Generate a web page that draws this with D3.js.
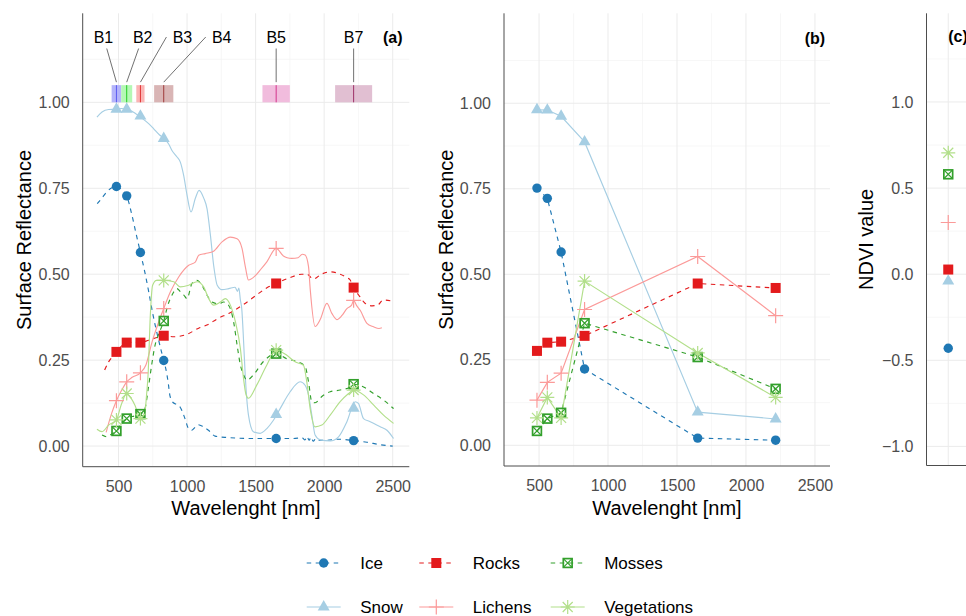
<!DOCTYPE html>
<html>
<head>
<meta charset="utf-8">
<script src="https://cdn.jsdelivr.net/npm/d3@7"></script>
<style>
  body { margin: 0; background: #fff; }
  svg { display: block; font-family: "Liberation Sans", Arial, sans-serif; }
</style>
</head>
<body>
<svg id="chart" width="966" height="616"></svg>
<script>
// ---- data ----
const classes = ["Ice", "Snow", "Rocks", "Lichens", "Mosses", "Vegetations"];

const bandNames = ["B1", "B2", "B3", "B4", "B5", "B7"];
const bandStart = [450, 520, 630, 760, 1550, 2080];
const bandEnd = [520, 600, 690, 900, 1750, 2350];
const bandCentre = [485, 560, 660, 830, 1650, 2215];

const xTicks = [500, 1000, 1500, 2000, 2500];
const reflTicks = [0, 0.25, 0.5, 0.75, 1];
const ndviTicks = [-1, -0.5, 0, 0.5, 1];

// reflectance spectra (wavelength nm, reflectance)
const iceSpectrum = [[345,0.705],[380,0.722],[420,0.742],[455,0.752],[485,0.755],[525,0.745],[560,0.728],[598,0.672],[630,0.615],[660,0.563],[690,0.51],[720,0.45],[750,0.385],[780,0.33],[810,0.28],[830,0.249],[852,0.211],[864,0.18],[876,0.145],[900,0.126],[930,0.12],[950,0.113],[985,0.08],[1009,0.052],[1034,0.046],[1060,0.055],[1083,0.062],[1119,0.056],[1156,0.046],[1204,0.029],[1290,0.025],[1484,0.022],[1650,0.022],[1776,0.022],[1840,0.024],[1860,0.018],[1875,0.028],[1890,0.017],[1905,0.026],[1920,0.014],[1940,0.022],[1960,0.017],[2020,0.017],[2100,0.02],[2215,0.016],[2312,0.011],[2409,0.004],[2500,0.0]];
const snowSpectrum = [[343,0.957],[380,0.972],[428,0.979],[485,0.98],[520,0.982],[560,0.98],[598,0.974],[660,0.957],[720,0.938],[757,0.923],[800,0.905],[830,0.896],[866,0.879],[890,0.86],[927,0.841],[951,0.826],[975,0.788],[1000,0.73],[1029,0.681],[1060,0.72],[1088,0.744],[1121,0.722],[1146,0.69],[1170,0.615],[1194,0.526],[1220,0.468],[1255,0.455],[1304,0.458],[1350,0.462],[1368,0.45],[1378,0.46],[1389,0.425],[1399,0.4],[1413,0.3],[1423,0.216],[1448,0.09],[1484,0.042],[1533,0.037],[1582,0.051],[1630,0.075],[1679,0.109],[1752,0.158],[1825,0.187],[1861,0.177],[1886,0.148],[1910,0.09],[1934,0.032],[1971,0.018],[2044,0.015],[2105,0.027],[2166,0.071],[2226,0.129],[2250,0.124],[2287,0.08],[2336,0.071],[2409,0.056],[2458,0.046],[2506,0.022]];
const rocksSpectrum = [[399,0.221],[428,0.245],[460,0.262],[485,0.274],[520,0.29],[560,0.301],[620,0.302],[660,0.301],[720,0.308],[780,0.316],[830,0.321],[903,0.318],[998,0.325],[1085,0.343],[1144,0.352],[1220,0.37],[1314,0.388],[1423,0.415],[1509,0.44],[1580,0.46],[1650,0.473],[1752,0.49],[1837,0.5],[1874,0.5],[1922,0.486],[1980,0.5],[2044,0.507],[2117,0.5],[2166,0.49],[2190,0.483],[2215,0.461],[2260,0.435],[2300,0.415],[2350,0.408],[2390,0.41],[2430,0.425],[2506,0.421]];
const lichensSpectrum = [[410,0.04],[450,0.095],[485,0.132],[520,0.16],[560,0.187],[600,0.2],[660,0.213],[700,0.236],[745,0.303],[781,0.347],[830,0.4],[878,0.448],[939,0.492],[1012,0.526],[1060,0.535],[1085,0.555],[1133,0.56],[1194,0.567],[1255,0.594],[1316,0.608],[1365,0.603],[1401,0.575],[1426,0.52],[1448,0.483],[1496,0.495],[1533,0.512],[1582,0.536],[1650,0.575],[1703,0.553],[1730,0.548],[1764,0.546],[1810,0.548],[1840,0.558],[1861,0.556],[1886,0.522],[1898,0.458],[1934,0.348],[1971,0.368],[2020,0.415],[2056,0.386],[2093,0.368],[2130,0.38],[2166,0.4],[2200,0.41],[2215,0.424],[2235,0.41],[2263,0.395],[2312,0.357],[2360,0.347],[2400,0.342],[2421,0.344]];
const mossesSpectrum = [[380,0.032],[416,0.027],[450,0.035],[485,0.044],[520,0.065],[560,0.08],[620,0.088],[660,0.093],[693,0.109],[717,0.167],[742,0.236],[767,0.294],[791,0.323],[830,0.364],[860,0.41],[890,0.439],[927,0.458],[951,0.449],[975,0.44],[1000,0.429],[1036,0.473],[1073,0.482],[1109,0.468],[1146,0.439],[1182,0.419],[1231,0.414],[1267,0.419],[1304,0.409],[1340,0.361],[1365,0.294],[1389,0.236],[1413,0.207],[1436,0.192],[1484,0.207],[1557,0.246],[1650,0.269],[1728,0.254],[1801,0.246],[1861,0.232],[1886,0.187],[1910,0.129],[1934,0.126],[1983,0.144],[2044,0.158],[2117,0.163],[2190,0.172],[2215,0.18],[2287,0.172],[2360,0.153],[2433,0.134],[2506,0.109]];
const vegetationsSpectrum = [[343,0.049],[380,0.042],[428,0.061],[485,0.076],[520,0.12],[560,0.153],[590,0.14],[620,0.119],[660,0.08],[693,0.1],[705,0.15],[717,0.216],[730,0.361],[749,0.468],[778,0.482],[830,0.482],[903,0.478],[951,0.463],[1012,0.468],[1073,0.478],[1121,0.463],[1158,0.429],[1194,0.41],[1243,0.419],[1280,0.429],[1316,0.41],[1353,0.361],[1389,0.284],[1411,0.2],[1430,0.15],[1448,0.139],[1509,0.178],[1582,0.236],[1650,0.279],[1728,0.264],[1788,0.245],[1849,0.235],[1874,0.185],[1898,0.109],[1934,0.056],[1983,0.061],[2044,0.09],[2117,0.129],[2178,0.153],[2215,0.163],[2287,0.149],[2360,0.12],[2433,0.09],[2506,0.066]];

// reflectance at the band centres (panel a)
const iceAtCentre = [0.755, 0.728, 0.563, 0.249, 0.022, 0.016];
const snowAtCentre = [0.98, 0.98, 0.96, 0.895, 0.092, 0.11];
const rocksAtCentre = [0.274, 0.301, 0.301, 0.321, 0.473, 0.461];
const lichensAtCentre = [0.132, 0.187, 0.213, 0.4, 0.575, 0.424];
const mossesAtCentre = [0.044, 0.08, 0.093, 0.364, 0.269, 0.18];
const vegetationsAtCentre = [0.076, 0.153, 0.08, 0.482, 0.279, 0.163];

// band-averaged reflectance (panel b)
const iceBandMean = [0.752, 0.722, 0.565, 0.223, 0.021, 0.015];
const snowBandMean = [0.981, 0.98, 0.962, 0.887, 0.097, 0.077];
const rocksBandMean = [0.276, 0.30, 0.303, 0.32, 0.473, 0.46];
const lichensBandMean = [0.132, 0.184, 0.211, 0.397, 0.552, 0.379];
const mossesBandMean = [0.042, 0.078, 0.095, 0.357, 0.258, 0.165];
const vegetationsBandMean = [0.08, 0.14, 0.08, 0.48, 0.27, 0.14];

// NDVI (panel c)
const ndviValues = [-0.43, -0.04, 0.027, 0.30, 0.58, 0.705];

// ---- build tables ----
const spectra = [iceSpectrum, snowSpectrum, rocksSpectrum, lichensSpectrum, mossesSpectrum, vegetationsSpectrum];
const atCentre = [iceAtCentre, snowAtCentre, rocksAtCentre, lichensAtCentre, mossesAtCentre, vegetationsAtCentre];
const bandMean = [iceBandMean, snowBandMean, rocksBandMean, lichensBandMean, mossesBandMean, vegetationsBandMean];

const color = d3.scaleOrdinal(classes, ["#1f78b4", "#a6cee3", "#e31a1c", "#fb9a99", "#33a02c", "#b2df8a"]);
const dashed = new Set(["Ice", "Rocks", "Mosses"]);
const shapeOf = { Ice: "circle", Snow: "triangle", Rocks: "square", Lichens: "plus", Mosses: "boxx", Vegetations: "star" };

const bandFill = ["#b4b4fa", "#b4f8b4", "#fbb4b4", "#d9b5b5", "#f1bcdd", "#e1bfd2"];
const bandLine = ["#5a5af0", "#22cc22", "#e03333", "#9e3a3a", "#d4368e", "#9c2f66"];
const bandLabelNudge = [-13, 16, 42, 58, 0, 0];

const svg = d3.select('#chart');
svg.append('rect').attr('width', 966).attr('height', 616).attr('fill', '#fff');

function marker(g, cls, x, y) {
  const c = color(cls);
  const m = g.append('g').attr('transform', `translate(${x},${y})`);
  switch (shapeOf[cls]) {
    case "circle":
      m.append('circle').attr('r', 4.7).attr('fill', c);
      break;
    case "square":
      m.append('rect').attr('x', -5).attr('y', -5).attr('width', 10).attr('height', 10).attr('fill', c);
      break;
    case "triangle":
      m.append('path').attr('d', d3.symbol(d3.symbolTriangle, 62)()).attr('fill', c);
      break;
    case "plus":
      m.append('path').attr('d', 'M-7.5,0H7.5M0,-7.5V7.5').attr('stroke', c).attr('stroke-width', 1.2).attr('fill', 'none');
      break;
    case "star":
      m.append('path').attr('d', 'M-7,0H7M0,-7V7M-5,-5L5,5M-5,5L5,-5').attr('stroke', c).attr('stroke-width', 1.2).attr('fill', 'none');
      break;
    case "boxx":
      m.append('rect').attr('x', -4.4).attr('y', -4.4).attr('width', 8.8).attr('height', 8.8)
        .attr('fill', 'none').attr('stroke', c).attr('stroke-width', 1.7);
      m.append('path').attr('d', 'M-4.4,-4.4L4.4,4.4M-4.4,4.4L4.4,-4.4').attr('stroke', c).attr('stroke-width', 1.2);
      break;
  }
}

function gridAndAxes(g, box, xs, ys, xMajor, xMinor, yMajor, yMinor, yFormat, showXLabels) {
  const grid = g.append('g');
  grid.selectAll('.ymin').data(yMinor).join('line')
    .attr('x1', box.left).attr('x2', box.right).attr('y1', d => ys(d)).attr('y2', d => ys(d))
    .attr('stroke', '#f3f3f3').attr('stroke-width', 0.7);
  grid.selectAll('.xmin').data(xMinor).join('line')
    .attr('y1', box.top).attr('y2', box.bottom).attr('x1', d => xs(d)).attr('x2', d => xs(d))
    .attr('stroke', '#f3f3f3').attr('stroke-width', 0.7);
  grid.selectAll('.ymaj').data(yMajor).join('line')
    .attr('x1', box.left).attr('x2', box.right).attr('y1', d => ys(d)).attr('y2', d => ys(d))
    .attr('stroke', '#ebebeb').attr('stroke-width', 1);
  grid.selectAll('.xmaj').data(xMajor).join('line')
    .attr('y1', box.top).attr('y2', box.bottom).attr('x1', d => xs(d)).attr('x2', d => xs(d))
    .attr('stroke', '#ebebeb').attr('stroke-width', 1);

  const yAxis = g.append('g').attr('transform', `translate(${box.left},0)`)
    .call(d3.axisLeft(ys).tickValues(yMajor).tickSize(0).tickPadding(13).tickFormat(yFormat));
  yAxis.select('.domain').remove();
  yAxis.selectAll('text').attr('font-size', 16).attr('fill', '#4d4d4d').attr('font-family', null);

  if (showXLabels) {
    const xAxis = g.append('g').attr('transform', `translate(0,${box.bottom})`)
      .call(d3.axisBottom(xs).tickValues(xMajor).tickSize(0).tickPadding(14).tickFormat(d3.format('d')));
    xAxis.select('.domain').remove();
    xAxis.selectAll('text').attr('font-size', 16).attr('fill', '#4d4d4d').attr('font-family', null);
  }

  g.append('path')
    .attr('d', `M${box.left},${box.top}V${box.bottom}H${box.right}`)
    .attr('fill', 'none').attr('stroke', '#4d4d4d').attr('stroke-width', 1);
}

function yTitle(x, y, text) {
  svg.append('text').attr('transform', `translate(${x},${y}) rotate(-90)`)
    .attr('text-anchor', 'middle').attr('font-size', 20).attr('fill', '#000').text(text);
}
function xTitle(x, y, text) {
  svg.append('text').attr('x', x).attr('y', y)
    .attr('text-anchor', 'middle').attr('font-size', 20).attr('fill', '#000').text(text);
}

const xMinorTicks = [750, 1250, 1750, 2250];
const reflMinor = [0.125, 0.375, 0.625, 0.875, 1.125];

// ---- panel (a) ----
const boxA = { left: 82.7, right: 409.3, top: 13.3, bottom: 466.7 };
const xA = d3.scaleLinear().domain([239, 2621]).range([boxA.left, boxA.right]);
const yA = d3.scaleLinear().domain([-0.06, 1.259]).range([boxA.bottom, boxA.top]);
const gA = svg.append('g');
gridAndAxes(gA, boxA, xA, yA, xTicks, xMinorTicks, reflTicks, reflMinor, d3.format('.2f'), true);

// band rectangles and labels
bandNames.forEach((b, i) => {
  gA.append('rect')
    .attr('x', xA(bandStart[i])).attr('width', xA(bandEnd[i]) - xA(bandStart[i]))
    .attr('y', yA(1.05)).attr('height', yA(1.0) - yA(1.05))
    .attr('fill', bandFill[i]);
  gA.append('line')
    .attr('x1', xA(bandCentre[i])).attr('x2', xA(bandCentre[i]))
    .attr('y1', yA(1.05)).attr('y2', yA(1.0))
    .attr('stroke', bandLine[i]).attr('stroke-width', 1);

  const tx = xA(bandCentre[i]), ty = yA(1.05) - 3;
  const lx = tx + bandLabelNudge[i], ly = yA(1.19);
  const dx = tx - lx, dy = ty - ly;
  let sx, sy;
  if (Math.abs(dx) > 25) { sx = lx - Math.sign(-dx) * 16; sy = ly; }
  else { const t = 11.5 / dy; sx = lx + dx * t; sy = ly + 11.5; }
  gA.append('line').attr('x1', sx).attr('y1', sy).attr('x2', tx).attr('y2', ty)
    .attr('stroke', '#333').attr('stroke-width', 0.7);
  gA.append('text').attr('x', lx).attr('y', ly).attr('dy', '0.35em')
    .attr('text-anchor', 'middle').attr('font-size', 16).attr('fill', '#000').text(b);
});
gA.append('text').attr('x', xA(2500)).attr('y', yA(1.19)).attr('dy', '0.35em')
  .attr('text-anchor', 'middle').attr('font-size', 16).attr('font-weight', 'bold').text('(a)');

const spectrumLine = d3.line().x(d => xA(d[0])).y(d => yA(d[1])).curve(d3.curveMonotoneX);
classes.forEach((cls, i) => {
  gA.append('path').attr('d', spectrumLine(spectra[i]))
    .attr('fill', 'none').attr('stroke', color(cls)).attr('stroke-width', 1.15)
    .attr('stroke-dasharray', dashed.has(cls) ? '4.5,4.5' : null);
});
classes.forEach((cls, i) => {
  atCentre[i].forEach((v, j) => marker(gA, cls, xA(bandCentre[j]), yA(v)));
});
yTitle(31, (boxA.top + boxA.bottom) / 2, 'Surface Reflectance');
xTitle((boxA.left + boxA.right) / 2, 514.5, 'Wavelenght [nm]');

// ---- panel (b) ----
const boxB = { left: 504, right: 830, top: 13.3, bottom: 466 };
const xB = d3.scaleLinear().domain([246, 2609]).range([boxB.left, boxB.right]);
const yB = d3.scaleLinear().domain([-0.0605, 1.263]).range([boxB.bottom, boxB.top]);
const gB = svg.append('g');
gridAndAxes(gB, boxB, xB, yB, xTicks, xMinorTicks, reflTicks, reflMinor, d3.format('.2f'), true);
gB.append('text').attr('x', xB(2500)).attr('y', yB(1.19)).attr('dy', '0.35em')
  .attr('text-anchor', 'middle').attr('font-size', 16).attr('font-weight', 'bold').text('(b)');

const meanLine = d3.line().x((d, j) => xB(bandCentre[j])).y(d => yB(d));
classes.forEach((cls, i) => {
  gB.append('path').attr('d', meanLine(bandMean[i]))
    .attr('fill', 'none').attr('stroke', color(cls)).attr('stroke-width', 1.15)
    .attr('stroke-dasharray', dashed.has(cls) ? '4.5,4.5' : null);
});
classes.forEach((cls, i) => {
  bandMean[i].forEach((v, j) => marker(gB, cls, xB(bandCentre[j]), yB(v)));
});
yTitle(453, (boxB.top + boxB.bottom) / 2, 'Surface Reflectance');
xTitle((boxB.left + boxB.right) / 2, 514.5, 'Wavelenght [nm]');

// ---- panel (c) ----
const boxC = { left: 926.5, right: 970, top: 13.3, bottom: 465.5 };
const xC = d3.scalePoint().domain(["NDVI"]).range([boxC.left, boxC.right]).padding(0.5);
const yC = d3.scaleLinear().domain([-1.111, 1.515]).range([boxC.bottom, boxC.top]);
const gC = svg.append('g');
gridAndAxes(gC, boxC, xC, yC, ["NDVI"], [], ndviTicks, [-0.75, -0.25, 0.25, 0.75, 1.25], d3.format('.1f'), false);
gC.append('text').attr('x', xC("NDVI")).attr('y', yC(1.38)).attr('dy', '0.35em')
  .attr('font-size', 16).attr('font-weight', 'bold').text('(c)');
classes.forEach((cls, i) => marker(gC, cls, xC("NDVI"), yC(ndviValues[i])));
yTitle(873, (boxC.top + boxC.bottom) / 2, 'NDVI value');

// ---- legend ----
const legendColX = [306.7, 419.3, 550.7];
const legendRowY = [563, 607];
const legend = svg.append('g');
classes.forEach((cls, i) => {
  const kx = legendColX[Math.floor(i / 2)], ky = legendRowY[i % 2];
  legend.append('line').attr('x1', kx).attr('x2', kx + 34).attr('y1', ky).attr('y2', ky)
    .attr('stroke', color(cls)).attr('stroke-width', 1.15)
    .attr('stroke-dasharray', dashed.has(cls) ? '4.5,4.5' : null);
  marker(legend, cls, kx + 17, ky);
  legend.append('text').attr('x', kx + 53.5).attr('y', ky).attr('dy', '0.35em')
    .attr('font-size', 17).attr('fill', '#000').text(cls);
});
</script>
</body>
</html>
